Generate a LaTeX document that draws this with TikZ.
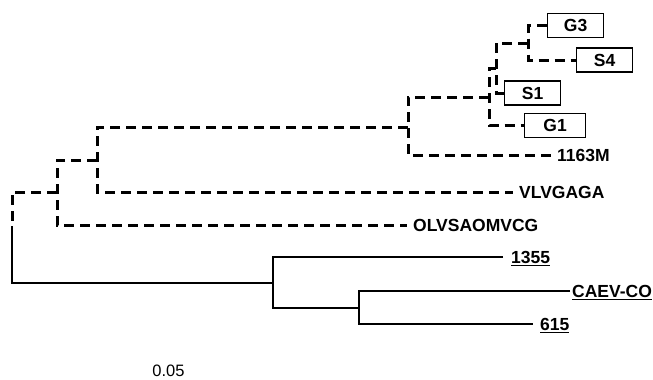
\documentclass[tikz,border=0pt]{standalone}
\usepackage{fontspec}
\setmainfont{Liberation Sans}
\begin{document}
\begin{tikzpicture}[x=1pt,y=-1pt,
  lab/.style={font=\fontsize{17.5}{20}\selectfont\bfseries, anchor=west, inner sep=0pt, text height=12.5pt, text depth=0pt},
  leaf/.style={draw, line width=1.1pt, font=\fontsize{17.5}{20}\selectfont\bfseries, inner sep=0pt, minimum height=24pt, anchor=west, text height=12.5pt, text depth=0pt},
  dsh/.style={line width=3pt, dash pattern=on 10pt off 6pt},
  sol/.style={line width=2.6pt}]
\useasboundingbox (0,0) rectangle (653,380);
% leaves
\node[leaf, minimum width=56pt] (g3) at (547,25.5) {G3};
\node[leaf, minimum width=56pt] (s4) at (576,60) {S4};
\node[leaf, minimum width=56pt] (s1) at (504,93) {S1};
\node[leaf, minimum width=61pt] (g1) at (524,125.5) {G1};
\node[lab] (m1163) at (557,155) {1163M};
\node[lab] (vlv) at (519,192) {VLVGAGA};
\node[lab] (olv) at (413,225) {OLVSAOMVCG};
\node[lab] (n1355) at (511,257) {\underline{1355}};
\node[lab] (caev) at (572,291) {\underline{CAEV-CO}};
\node[lab] (n615) at (540,324) {\underline{615}};
\node[font=\fontsize{16.5}{18}\selectfont, inner sep=0pt] (scale) at (168.5,371) {0.05};
% internal nodes
\coordinate (E) at (528,43);
\coordinate (F) at (496,68);
\coordinate (D) at (489,97);
\coordinate (C) at (408,127);
\coordinate (B) at (97,160);
\coordinate (A) at (57,192);
\coordinate (R1) at (12,226);
\coordinate (H) at (273,283);
\coordinate (I) at (359,308);
% dashed branches
\draw[dsh] (g3.west) -| (E) |- (s4.west);
\draw[dsh] (E) -| (F) |- (s1.west);
\draw[dsh] (F) -| (D) |- (g1.west);
\draw[dsh, shorten >=6pt] (D) -| (C) |- (m1163.west);
\draw[dsh, shorten >=6pt] (C) -| (B) |- (vlv.west);
\draw[dsh, shorten >=6pt] (B) -| (A) |- (olv.west);
\draw[dsh] (A) -| (R1);
% solid branches
\draw[sol] (R1) |- (H);
\draw[sol, shorten <=8pt] (n1355.west) -| (H) |- (I);
\draw[sol, shorten <=2pt, shorten >=7pt] (caev.west) -| (I) |- (n615.west);
\end{tikzpicture}
\end{document}
